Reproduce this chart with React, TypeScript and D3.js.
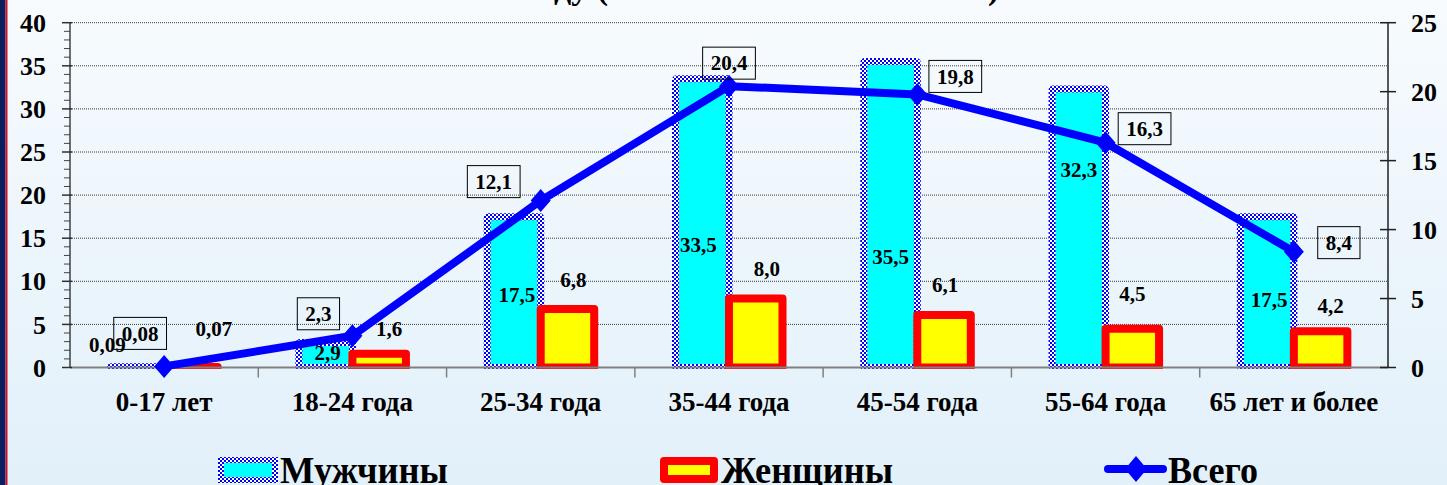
import React from "react";
import * as d3 from "d3";

// Age groups and shares (%)
const categories = ["0-17 лет", "18-24 года", "25-34 года", "35-44 года", "45-54 года", "55-64 года", "65 лет и более"];
const menValues = [0.09, 2.9, 17.5, 33.5, 35.5, 32.3, 17.5];
const womenValues = [0.07, 1.6, 6.8, 8.0, 6.1, 4.5, 4.2];
const totalValues = [0.08, 2.3, 12.1, 20.4, 19.8, 16.3, 8.4];
const leftTicks = [0, 5, 10, 15, 20, 25, 30, 35, 40];
const rightTicks = [0, 5, 10, 15, 20, 25];
const seriesNames = ["Мужчины", "Женщины", "Всего"];
const titleHead = "ду (";
const titleTail = ")";

// Label nudges in pixels [dx, dy]
const menNudge = [[-30, -22], [2, 10], [3, 78], [-4, 166], [0, 195], [0, 81], [2, 83]];
const womenNudge = [[23, -38], [10, -25], [6, -29], [11, -30], [1, -30], [0, -35], [10, -26]];
const totalNudge = [[-24, -33], [-34, -22], [-47, -19], [0, -23], [38, -18], [39, -14], [45, -9]];

const W = 1447;
const H = 485;
const M = { left: 70, right: 1388, top: 22.7, bottom: 367.5 };
const TXT: React.CSSProperties = { fontFamily: '"Liberation Serif", "Times New Roman", serif', fontWeight: 700 };

const fmt = (v: number) => (v < 1 ? v.toFixed(2) : v.toFixed(1)).replace(".", ",");

export default function App() {
  const x = d3.scaleBand<string>().domain(categories).range([M.left, M.right]).padding(0);
  const yL = d3.scaleLinear().domain([0, 40]).range([M.bottom, M.top]);
  const yR = d3.scaleLinear().domain([0, 25]).range([M.bottom, M.top]);
  const barW = 53.5;
  const cx = (c: string) => (x(c) as number) + x.bandwidth() / 2;
  const minorTicks = d3.range(0, 41, 1).filter((v) => v % 5 !== 0);

  const line = d3
    .line<number>()
    .x((_, i) => cx(categories[i]))
    .y((v) => yR(v));

  const diamond = (px: number, py: number, w: number, h: number) =>
    `M${px},${py - h / 2}L${px + w / 2},${py}L${px},${py + h / 2}L${px - w / 2},${py}Z`;

  const labelW = (s: string) => s.split("").reduce((a, ch) => a + (ch === "," ? 5.25 : 10.5), 0);

  return (
    <svg width={W} height={H} style={{ position: "absolute", left: 0, top: 0 }}>
      <defs>
        <linearGradient id="bg" x1="0" y1="0" x2="0" y2="1">
          <stop offset="0" stopColor="#f7fbfe" />
          <stop offset="1" stopColor="#e2f0fa" />
        </linearGradient>
        <pattern id="checker" width="4" height="4" patternUnits="userSpaceOnUse">
          <rect width="4" height="4" fill="#ffffff" />
          <rect width="2" height="2" fill="#0000ff" />
          <rect x="2" y="2" width="2" height="2" fill="#0000ff" />
        </pattern>
        <clipPath id="plotClip">
          <rect x={0} y={0} width={W} height={M.bottom + 1.5} />
        </clipPath>
      </defs>

      <rect width={W} height={H} fill="url(#bg)" />
      <rect x={0} y={0} width={5.5} height={H} fill="#0b1f5e" />
      <rect x={5.5} y={0} width={2} height={H} fill="#c8102e" />

      {/* title, mostly above the visible area */}
      <text x={608} y={-1} textAnchor="end" fontSize={34} style={TXT}>{titleHead}</text>
      <text x={988} y={-1} fontSize={34} style={TXT}>{titleTail}</text>

      {/* gridlines */}
      {leftTicks.filter((t) => t > 0).map((t) => (
        <line key={"g" + t} x1={M.left} x2={M.right} y1={yL(t)} y2={yL(t)} stroke="#3a3a3a" strokeWidth={1} strokeDasharray="1 1" />
      ))}

      {/* bars */}
      <g clipPath="url(#plotClip)">
        {categories.map((c, i) => (
          <rect key={"m" + c} x={cx(c) - barW} y={yL(menValues[i])} width={barW} height={yL(0) - yL(menValues[i])}
            fill="#00ffff" stroke="url(#checker)" strokeWidth={7} rx={1} />
        ))}
        {categories.map((c, i) => (
          <rect key={"w" + c} x={cx(c)} y={yL(womenValues[i])} width={barW} height={yL(0) - yL(womenValues[i])}
            fill="#ffff00" stroke="#ff0000" strokeWidth={8} strokeLinejoin="round" />
        ))}
      </g>

      {/* category axis */}
      <line x1={M.left} x2={M.right} y1={M.bottom} y2={M.bottom} stroke="#808080" strokeWidth={2} />
      {categories.slice(1).map((c) => (
        <line key={"ct" + c} x1={x(c) as number} x2={x(c) as number} y1={M.bottom} y2={M.bottom + 10} stroke="#808080" strokeWidth={1.5} />
      ))}
      {categories.map((c) => (
        <text key={"cl" + c} x={cx(c)} y={411} textAnchor="middle" fontSize={27} style={TXT}>{c}</text>
      ))}

      {/* left axis */}
      <line x1={M.left} x2={M.left} y1={M.top} y2={M.bottom} stroke="#404040" strokeWidth={1.5} />
      {minorTicks.map((t) => (
        <line key={"mn" + t} x1={M.left - 6} x2={M.left} y1={yL(t)} y2={yL(t)} stroke="#404040" strokeWidth={1} />
      ))}
      {leftTicks.map((t) => (
        <g key={"lt" + t}>
          <line x1={M.left - 8} x2={M.left + 2} y1={yL(t)} y2={yL(t)} stroke="#303030" strokeWidth={1.5} />
          <text x={46} y={yL(t)} dy="0.35em" textAnchor="end" fontSize={26} style={TXT}>{t}</text>
        </g>
      ))}

      {/* right axis */}
      <line x1={M.right} x2={M.right} y1={M.top} y2={M.bottom} stroke="#202020" strokeWidth={1.5} />
      {rightTicks.map((t) => (
        <g key={"rt" + t}>
          <line x1={M.right - 8} x2={M.right + 8} y1={yR(t)} y2={yR(t)} stroke="#202020" strokeWidth={1.5} />
          <text x={1411} y={yR(t)} dy="0.35em" textAnchor="start" fontSize={26} style={TXT}>{t}</text>
        </g>
      ))}

      {/* total line */}
      <path d={line(totalValues) as string} fill="none" stroke="#0000ff" strokeWidth={8} strokeLinejoin="round" />
      {categories.map((c, i) => (
        <path key={"d" + c} d={diamond(cx(c), yR(totalValues[i]), 20, 23)} fill="#0000ff" />
      ))}

      {/* men labels */}
      {categories.map((c, i) => (
        <text key={"ml" + c} x={cx(c) - barW / 2 + menNudge[i][0]} y={yL(menValues[i]) + menNudge[i][1]} dy="0.35em"
          textAnchor="middle" fontSize={21} style={TXT}>{fmt(menValues[i])}</text>
      ))}
      {/* women labels */}
      {categories.map((c, i) => (
        <text key={"wl" + c} x={cx(c) + barW / 2 + womenNudge[i][0]} y={yL(womenValues[i]) + womenNudge[i][1]} dy="0.35em"
          textAnchor="middle" fontSize={21} style={TXT}>{fmt(womenValues[i])}</text>
      ))}
      {/* total labels with boxes */}
      {categories.map((c, i) => {
        const s = fmt(totalValues[i]);
        const lx = cx(c) + totalNudge[i][0];
        const ly = yR(totalValues[i]) + totalNudge[i][1];
        const bw = labelW(s) + 16;
        return (
          <g key={"tl" + c}>
            <rect x={lx - bw / 2} y={ly - 16} width={bw} height={32} fill="none" stroke="#000" strokeWidth={1} />
            <text x={lx} y={ly} dy="0.35em" textAnchor="middle" fontSize={21} style={TXT}>{s}</text>
          </g>
        );
      })}

      {/* legend */}
      <g>
        <rect x={221} y={460} width={54} height={20} fill="#00ffff" stroke="url(#checker)" strokeWidth={6} />
        <text x={280} y={483} fontSize={38} textLength={168} lengthAdjust="spacingAndGlyphs" style={TXT}>{seriesNames[0]}</text>
        <rect x={664} y={461} width={50} height={18} fill="#ffff00" stroke="#ff0000" strokeWidth={8} strokeLinejoin="round" />
        <text x={721} y={483} fontSize={38} textLength={172} lengthAdjust="spacingAndGlyphs" style={TXT}>{seriesNames[1]}</text>
        <line x1={1108} x2={1163} y1={469} y2={469} stroke="#0000ff" strokeWidth={8} strokeLinecap="round" />
        <path d={diamond(1136, 469, 22, 26)} fill="#0000ff" />
        <text x={1168} y={483} fontSize={38} textLength={90} lengthAdjust="spacingAndGlyphs" style={TXT}>{seriesNames[2]}</text>
      </g>
    </svg>
  );
}
